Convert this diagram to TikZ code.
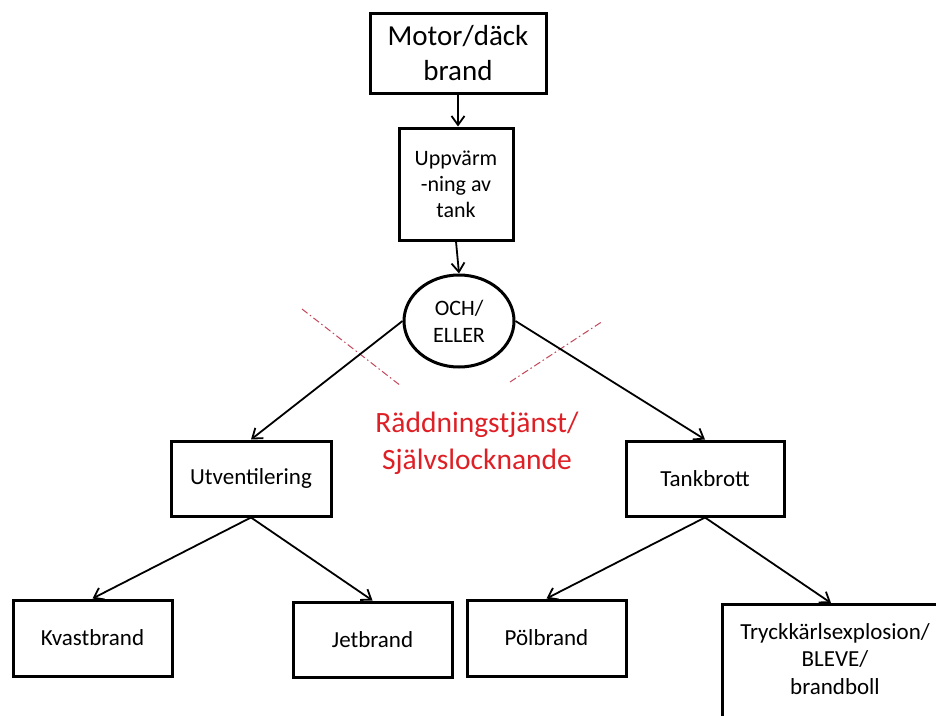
\documentclass[tikz,border=0pt]{standalone}
\usepackage{fontspec}
\setmainfont{Carlito}
\usetikzlibrary{arrows.meta,shapes.geometric,calc}
\definecolor{redtext}{RGB}{222,32,38}
\definecolor{dashred}{RGB}{196,70,90}
\tikzset{
  box/.style={draw=black,line width=3pt,align=center,inner sep=2pt,font=\fontsize{23}{28}\selectfont},
  conn/.style={draw=black,line width=1.8pt,-{Straight Barb[length=9pt,width=13pt,line width=1.8pt]}},
  cutline/.style={draw=dashred,line width=1pt,dash pattern=on 7pt off 3pt on 1.5pt off 3pt}
}
\begin{document}
\begin{tikzpicture}[x=1pt,y=-1pt]
\clip (0,0) rectangle (936,715);
\fill[white] (0,0) rectangle (936,715);
\node[box,minimum width=176pt,minimum height=80pt,font=\fontsize{29}{35}\selectfont] (motor) at (458,53) {Motor/däck\\brand};
\node[box,minimum width=114pt,minimum height=112pt,font=\fontsize{22}{26}\selectfont] (upp) at (456,184) {Uppvärm\\-ning av\\tank};
\node[box,ellipse,inner sep=0pt,minimum width=110pt,minimum height=92pt,font=\fontsize{22}{27}\selectfont] (och) at (459,321) {OCH/\\ELLER};
\node[box,minimum width=160pt,minimum height=75pt] (utv) at (251,478.5) {Utventilering};
\node[box,minimum width=158pt,minimum height=75pt] (tank) at (705,478.5) {Tankbrott};
\node[box,minimum width=159pt,minimum height=76pt] (kvast) at (92.5,638) {Kvastbrand};
\node[box,minimum width=159pt,minimum height=75pt] (jet) at (372.5,639.5) {Jetbrand};
\node[box,minimum width=159pt,minimum height=76pt] (pol) at (546.5,638) {Pölbrand};
\node[box,minimum width=222pt,minimum height=126pt,anchor=north west] (tryck) at (721,603) {};
\node[font=\fontsize{23}{27.5}\selectfont,align=center] (trycktext) at (835,659) {Tryckkärlsexplosion/\\BLEVE/\\brandboll};
\node[text=redtext,font=\fontsize{29.5}{37}\selectfont,align=center] (rdd) at (477,443) {Räddningstjänst/\\Självslocknande};
\coordinate (c1a) at (302,309);
\coordinate (c1b) at (401,386);
\coordinate (c2a) at (510,382);
\coordinate (c2b) at (603,321);
\draw[cutline] (c1a) -- (c1b);
\draw[cutline] (c2a) -- (c2b);
\draw[conn] (motor.south) -- (upp.north -| motor.south);
\draw[conn] (upp.south) -- (och.north);
\draw[conn] (och.west) -- (utv.north);
\draw[conn] (och.east) -- (tank.north);
\draw[conn] (utv.south) -- (kvast.north);
\draw[conn] (utv.south) -- (jet.north);
\draw[conn] (tank.south) -- (pol.north);
\draw[conn] (tank.south) -- ($(tryck.north west)+(110,0)$);
\end{tikzpicture}
\end{document}
